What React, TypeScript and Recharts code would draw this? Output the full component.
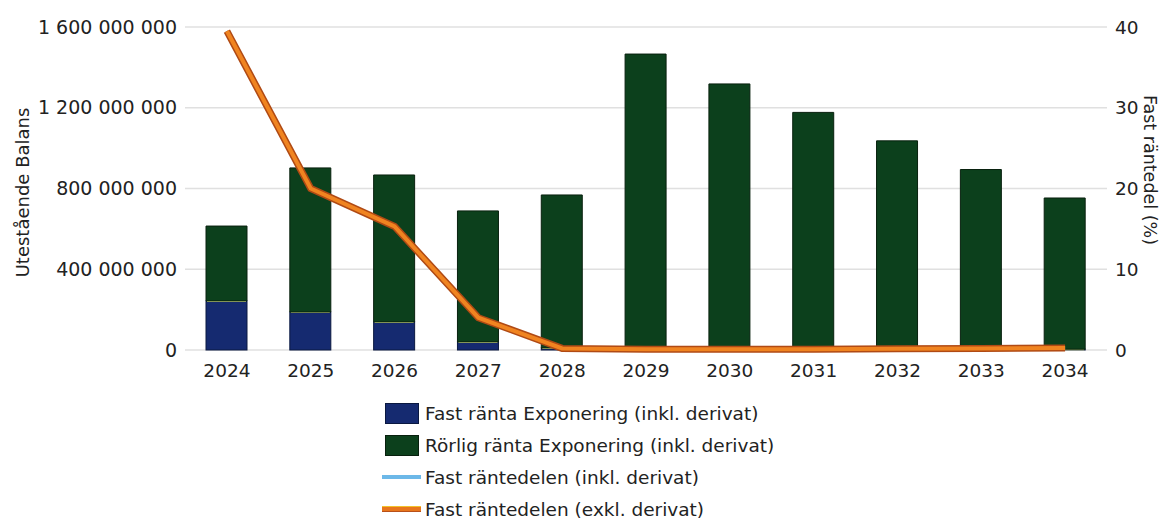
import React from 'react';
import { ComposedChart, Bar, Line, XAxis, YAxis, CartesianGrid, Legend } from 'recharts';

const years = ['2024', '2025', '2026', '2027', '2028', '2029', '2030', '2031', '2032', '2033', '2034'];
const fastExponering = [243e6, 188e6, 139e6, 40e6, 10e6, 4e6, 4e6, 4e6, 4e6, 4e6, 4e6];
const rorligExponering = [371e6, 714e6, 728e6, 649e6, 758e6, 1462e6, 1314e6, 1173e6, 1032e6, 890e6, 749e6];
const fastInkl = [39.5, 20, 15.3, 4, 0.2, 0.1, 0.1, 0.1, 0.15, 0.2, 0.25];
const fastExkl = [39.5, 20, 15.3, 4, 0.2, 0.1, 0.1, 0.1, 0.15, 0.2, 0.25];
const leftTicks = [0, 400e6, 800e6, 1200e6, 1600e6];
const rightTicks = [0, 10, 20, 30, 40];

const seriesNames = [
  'Fast ränta Exponering (inkl. derivat)',
  'Rörlig ränta Exponering (inkl. derivat)',
  'Fast räntedelen (inkl. derivat)',
  'Fast räntedelen (exkl. derivat)',
];

const data = years.map((y, i) => ({
  year: y,
  fast: fastExponering[i],
  rorlig: rorligExponering[i],
  inkl: fastInkl[i],
  exkl: fastExkl[i],
}));

const FONT = '"DejaVu Sans", Verdana, sans-serif';
const GREEN = '#0c401c';
const BLUE = '#152a70';

const fmt = (v: number) => String(v).replace(/\B(?=(\d{3})+(?!\d))/g, ' ');

const BlueShape = (props: any) => {
  const { x, y, width, height } = props;
  return (
    <g>
      <rect x={x} y={y} width={width} height={height} fill={BLUE} stroke="#0a1840" strokeWidth={1} />
      <line x1={x + 1} x2={x + width - 1} y1={y} y2={y} stroke="#e2ee8e" strokeWidth={2} />
    </g>
  );
};

const LegendContent = () => (
  <div style={{ fontFamily: FONT, fontSize: 18.5, color: '#222' }}>
    {seriesNames.map((n, i) => (
      <div key={n} style={{ display: 'flex', alignItems: 'center', height: 32, whiteSpace: 'nowrap' }}>
        <div style={{ width: 42, display: 'flex', alignItems: 'center' }}>
          {i === 0 && <div style={{ width: 32, height: 19, background: BLUE, border: '1px solid #0a1840', marginLeft: 6 }} />}
          {i === 1 && <div style={{ width: 32, height: 19, background: GREEN, border: '1px solid #08200e', marginLeft: 6 }} />}
          {i === 2 && <div style={{ width: 39, height: 4, background: '#6cb8e8', marginLeft: 3 }} />}
          {i === 3 && <div style={{ width: 39, height: 4, background: '#e8761c', borderTop: '1px solid #f2c22a', borderBottom: '1px solid #b8501a', marginLeft: 3 }} />}
        </div>
        <span style={{ marginLeft: 4 }}>{n}</span>
      </div>
    ))}
  </div>
);

export default function App() {
  return (
    <div style={{ position: 'absolute', left: 0, top: 0, background: '#fff' }}>
      <ComposedChart width={1165} height={519} data={data} margin={{ top: 27, right: 0, bottom: 139, left: 0 }}>
        <CartesianGrid vertical={false} stroke="#e0e0e0" strokeWidth={1.5} yAxisId="left" />
        <XAxis
          dataKey="year"
          axisLine={false}
          tickLine={false}
          height={30}
          tickSize={0}
          tickMargin={14}
          tick={{ fontSize: 18.5, fill: '#222', fontFamily: FONT }}
        />
        <YAxis
          yAxisId="left"
          width={185}
          domain={[0, 1600e6]}
          ticks={leftTicks}
          tickFormatter={fmt}
          axisLine={false}
          tickLine={false}
          tickSize={0}
          tickMargin={8}
          tick={{ fontSize: 19, fill: '#222', fontFamily: FONT }}
          label={{
            content: (p: any) => {
              const vb = p.viewBox || { x: 0, y: 27, width: 185, height: 323 };
              const cy = vb.y + vb.height / 2 + 4;
              return (
                <text x={22} y={cy} transform={`rotate(-90, 22, ${cy})`} textAnchor="middle" dominantBaseline="central" fontSize={18} fill="#222" fontFamily={FONT}>
                  Utestående Balans
                </text>
              );
            },
          }}
        />
        <YAxis
          yAxisId="right"
          orientation="right"
          width={58}
          domain={[0, 40]}
          ticks={rightTicks}
          axisLine={false}
          tickLine={false}
          tickSize={0}
          tickMargin={8}
          tick={{ fontSize: 18.5, fill: '#222', fontFamily: FONT }}
          label={{
            content: () => (
              <text x={1150} y={170} transform={`rotate(90, 1150, 170)`} textAnchor="middle" dominantBaseline="central" fontSize={17.5} fill="#222" fontFamily={FONT}>
                Fast räntedel (%)
              </text>
            ),
          }}
        />
        <Bar yAxisId="left" dataKey="fast" stackId="a" barSize={41} fill={BLUE} shape={BlueShape} isAnimationActive={false} />
        <Bar yAxisId="left" dataKey="rorlig" stackId="a" barSize={41} fill={GREEN} stroke="#08200e" strokeWidth={1} isAnimationActive={false} />
        <Line yAxisId="right" dataKey="inkl" stroke="#6cb8e8" strokeWidth={3} dot={false} isAnimationActive={false} />
        <Line yAxisId="right" dataKey="exkl" stroke="#b04a14" strokeWidth={7} dot={false} isAnimationActive={false} legendType="none" />
        <Line yAxisId="right" dataKey="exkl" stroke="#f08420" strokeWidth={4} dot={false} isAnimationActive={false} />
        <Legend
          layout="vertical"
          align="center"
          verticalAlign="middle"
          content={<LegendContent />}
          wrapperStyle={{ position: 'absolute', left: 379, top: 397, width: 480 }}
        />
      </ComposedChart>
    </div>
  );
}
